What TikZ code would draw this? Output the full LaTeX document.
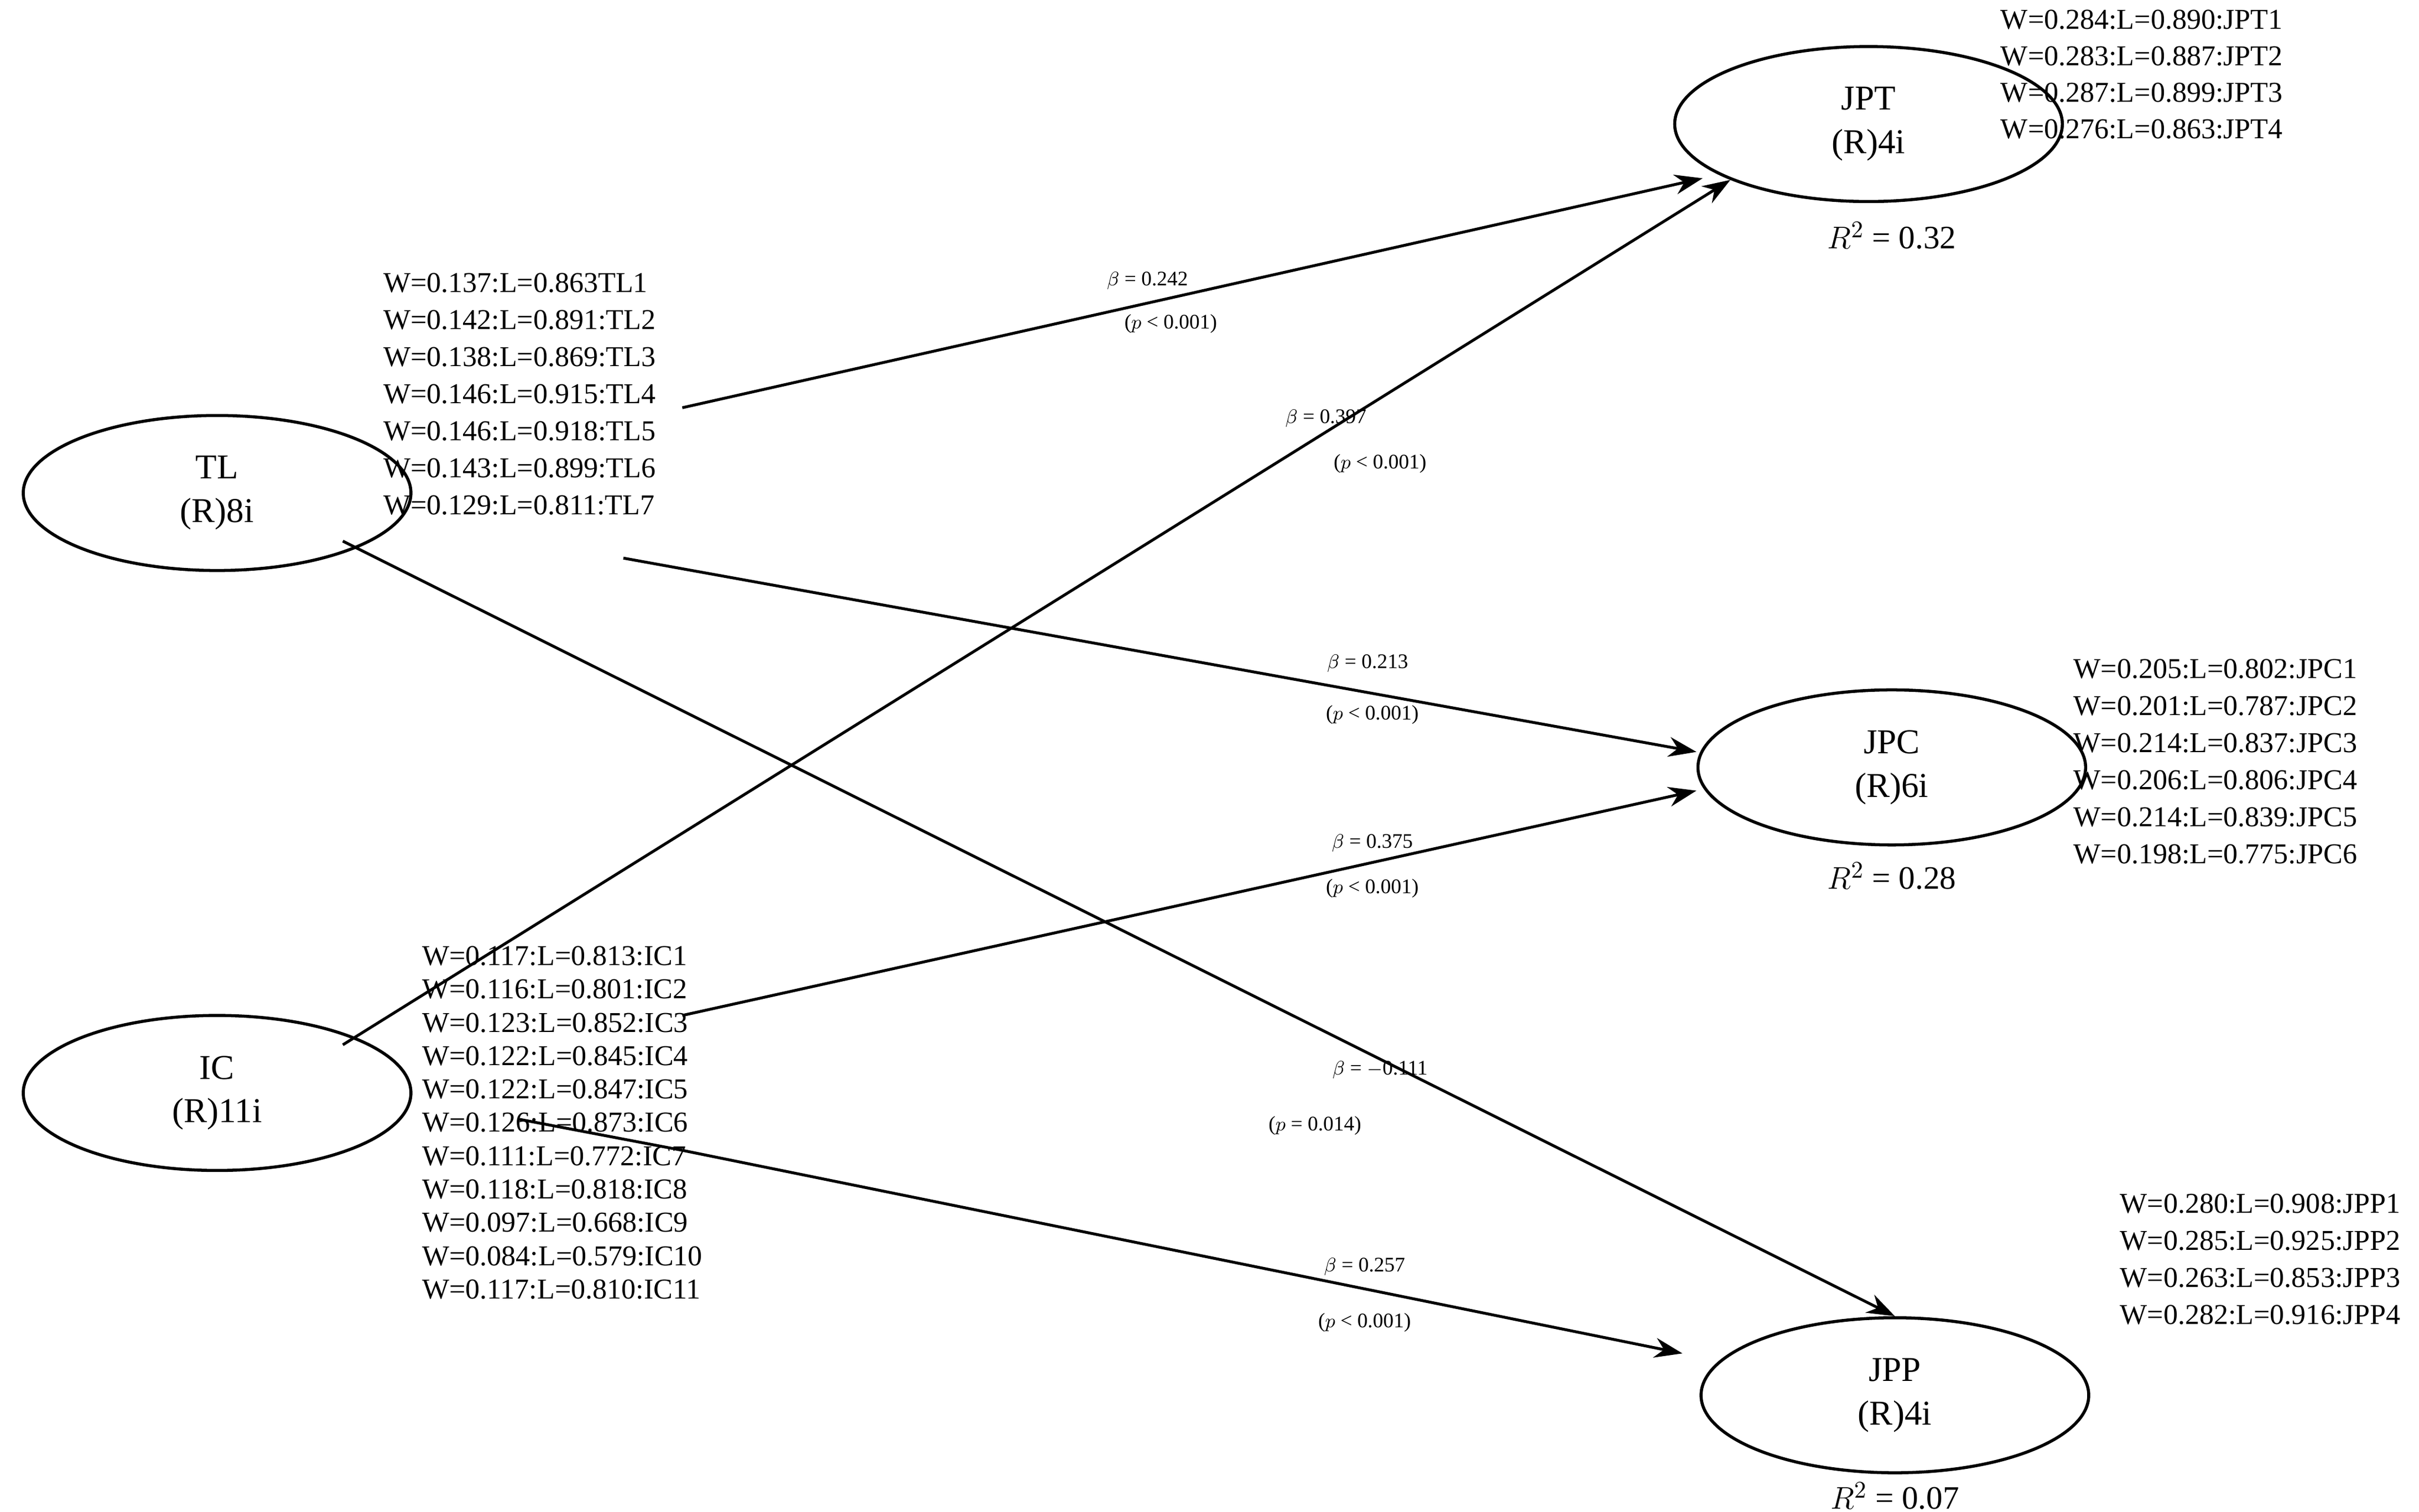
\documentclass[tikz,border=0pt]{standalone}
\usepackage{fontspec}
\setmainfont{Liberation Serif}
\usetikzlibrary{arrows.meta,shapes.geometric}
\tikzset{
  construct/.style={draw, ellipse, line width=1.4pt, minimum width=250*0.025cm,
    minimum height=100*0.025cm, align=center, font=\fontsize{16}{20}\selectfont},
  structPath/.style={line width=1.3pt, -{Stealth[length=4.5mm, width=3.2mm]}},
  weights/.style={anchor=north west, align=left, inner sep=0pt},
  coef/.style={font=\fontsize{9.5}{11}\selectfont, inner sep=0pt},
  rsq/.style={font=\fontsize{15}{18}\selectfont, inner sep=0pt}
}
\begin{document}
\begin{tikzpicture}[x=0.025cm, y=-0.025cm]
    \useasboundingbox (0,0) rectangle (1560,975);

    % constructs
    \node[construct] (tl) at (140,318) {TL\\(R)8i};
    \node[construct] (ic) at (140,705) {IC\\(R)11i};
    \node[construct] (jpt) at (1205,80) {JPT\\(R)4i};
    \node[construct] (jpc) at (1220,495) {JPC\\(R)6i};
    \node[construct] (jpp) at (1222,900) {JPP\\(R)4i};

    % free ends of the paths
    \coordinate (tlA) at (440,263);
    \coordinate (tlB) at (402,360);
    \coordinate (icA) at (440,655);
    \coordinate (icB) at (335,722);

    % paths
    \draw[structPath] (tlA) -- (1098,115);
    \draw[structPath] (tlB) -- (jpc.west |- 0,485);
    \draw[structPath] (tl.south east) ++(-8,-5) -- (jpp.north);
    \draw[structPath] (ic.north east) ++(-8,5) -- (jpt.south west);
    \draw[structPath] (icA) -- (jpc.west |- 0,510);
    \draw[structPath] (icB) -- (440,742) -- (1085,873);

    % indicator weights and loadings
    \node[weights, font=\fontsize{13.2}{17}\selectfont] (tlw) at (247,176) {%
      W=0.137:L=0.863TL1\\W=0.142:L=0.891:TL2\\W=0.138:L=0.869:TL3\\
      W=0.146:L=0.915:TL4\\W=0.146:L=0.918:TL5\\W=0.143:L=0.899:TL6\\
      W=0.129:L=0.811:TL7};
    \node[weights, font=\fontsize{13.2}{15.3}\selectfont] (icw) at (272,610) {%
      W=0.117:L=0.813:IC1\\W=0.116:L=0.801:IC2\\W=0.123:L=0.852:IC3\\
      W=0.122:L=0.845:IC4\\W=0.122:L=0.847:IC5\\W=0.126:L=0.873:IC6\\
      W=0.111:L=0.772:IC7\\W=0.118:L=0.818:IC8\\W=0.097:L=0.668:IC9\\
      W=0.084:L=0.579:IC10\\W=0.117:L=0.810:IC11};
    \node[weights, font=\fontsize{13.2}{16.8}\selectfont] (jptw) at (1290,6) {%
      W=0.284:L=0.890:JPT1\\W=0.283:L=0.887:JPT2\\
      W=0.287:L=0.899:JPT3\\W=0.276:L=0.863:JPT4};
    \node[weights, font=\fontsize{13.2}{17}\selectfont] (jpcw) at (1337,425) {%
      W=0.205:L=0.802:JPC1\\W=0.201:L=0.787:JPC2\\W=0.214:L=0.837:JPC3\\
      W=0.206:L=0.806:JPC4\\W=0.214:L=0.839:JPC5\\W=0.198:L=0.775:JPC6};
    \node[weights, font=\fontsize{13.2}{17}\selectfont] (jppw) at (1367,770) {%
      W=0.280:L=0.908:JPP1\\W=0.285:L=0.925:JPP2\\
      W=0.263:L=0.853:JPP3\\W=0.282:L=0.916:JPP4};

    % coefficients
    \node[coef] (b1) at (740,181) {$\beta$ = 0.242};
    \node[coef] (p1) at (755,209) {($p$ < 0.001)};
    \node[coef] (b2) at (855,270) {$\beta$ = 0.397};
    \node[coef] (p2) at (890,299) {($p$ < 0.001)};
    \node[coef] (b3) at (882,428) {$\beta$ = 0.213};
    \node[coef] (p3) at (885,461) {($p$ < 0.001)};
    \node[coef] (b4) at (885,544) {$\beta$ = 0.375};
    \node[coef] (p4) at (885,573) {($p$ < 0.001)};
    \node[coef] (b5) at (890,690) {$\beta$ = $-$0.111};
    \node[coef] (p5) at (848,726) {($p$ = 0.014)};
    \node[coef] (b6) at (880,817) {$\beta$ = 0.257};
    \node[coef] (p6) at (880,853) {($p$ < 0.001)};

    % explained variance
    \node[rsq] (r1) at (1220,152) {$R^2$ = 0.32};
    \node[rsq] (r2) at (1220,565) {$R^2$ = 0.28};
    \node[rsq] (r3) at (1222,965) {$R^2$ = 0.07};
\end{tikzpicture}
\end{document}
